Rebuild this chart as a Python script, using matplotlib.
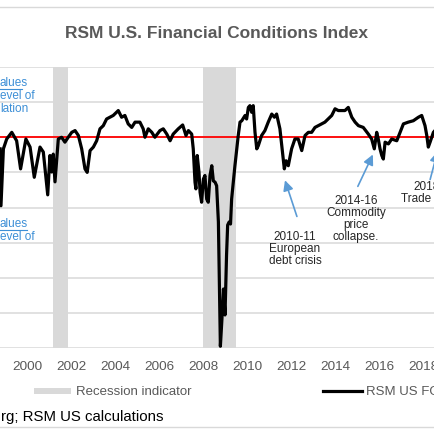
import matplotlib
matplotlib.use("Agg")
import matplotlib.pyplot as plt
from matplotlib.patches import Rectangle
from matplotlib.lines import Line2D

plt.rcParams['font.family'] = ['Liberation Sans', 'DejaVu Sans']

# index values (decimal year, index level)
years = [1998.78, 1998.82, 1998.93, 1999.08, 1999.31, 1999.53, 1999.71, 1999.95,
         2000.14, 2000.33, 2000.59, 2000.74, 2000.82, 2000.94, 2001.04, 2001.12,
         2001.19, 2001.27, 2001.42, 2001.57, 2001.72, 2001.87, 2002.03, 2002.18,
         2002.33, 2002.48, 2002.63, 2002.73, 2002.86, 2003.01, 2003.16, 2003.31,
         2003.46, 2003.61, 2003.76, 2003.91, 2004.14, 2004.29, 2004.44, 2004.59,
         2004.75, 2004.90, 2005.12, 2005.27, 2005.35, 2005.50, 2005.66, 2005.80,
         2006.03, 2006.18, 2006.34, 2006.49, 2006.63, 2006.86, 2007.06, 2007.21,
         2007.32, 2007.47, 2007.54, 2007.62, 2007.66, 2007.72, 2007.80, 2007.85,
         2007.92, 2008.00, 2008.07, 2008.15, 2008.22, 2008.30, 2008.38, 2008.45,
         2008.53, 2008.60, 2008.68, 2008.73, 2008.77, 2008.84, 2008.91, 2008.98,
         2009.05, 2009.10, 2009.17, 2009.23, 2009.28, 2009.43, 2009.58, 2009.66,
         2009.74, 2009.89, 2009.96, 2010.04, 2010.11, 2010.19, 2010.26, 2010.34,
         2010.42, 2010.49, 2010.64, 2010.79, 2010.94, 2011.10, 2011.22, 2011.32,
         2011.47, 2011.58, 2011.67, 2011.75, 2011.85, 2012.00, 2012.15, 2012.30,
         2012.46, 2012.61, 2012.76, 2012.91, 2013.06, 2013.21, 2013.37, 2013.51,
         2013.66, 2013.82, 2013.97, 2014.12, 2014.42, 2014.57, 2014.73, 2014.88,
         2015.03, 2015.25, 2015.48, 2015.63, 2015.75, 2015.86, 2015.93, 2016.01,
         2016.09, 2016.16, 2016.24, 2016.39, 2016.54, 2016.77, 2016.92, 2017.07,
         2017.29, 2017.52, 2017.75, 2017.90, 2018.05, 2018.13, 2018.20, 2018.28,
         2018.43, 2018.50]
fci = [-0.33, -1.95, -0.33, -0.05, 0.14, -0.10, -0.90, -0.05,
       -0.28, -1.14, -0.28, -0.42, -0.90, -1.64, -0.52, -0.99,
       -0.48, -1.27, -0.05, 0.00, -0.14, 0.00, 0.14, 0.19,
       0.05, -0.33, -0.90, -1.00, -0.38, -0.28, -0.10, 0.24,
       0.33, 0.52, 0.57, 0.62, 0.76, 0.57, 0.62, 0.38,
       0.28, 0.43, 0.43, 0.24, 0.00, 0.24, 0.14, 0.00,
       0.19, 0.24, 0.09, -0.10, 0.09, 0.24, 0.35, 0.05,
       0.19, 0.09, -0.33, -1.28, -1.47, -0.52, -1.00, -1.57,
       -1.85, -1.19, -1.09, -1.76, -1.85, -1.09, -0.81, -1.24,
       -1.28, -1.38, -2.41, -4.32, -5.95, -5.18, -4.32, -5.06,
       -3.35, -2.50, -2.41, -2.47, -1.76, -0.81, 0.05, 0.43,
       0.47, 0.62, 0.52, 0.85, 0.90, 0.71, 0.90, 0.14,
       -0.33, -0.24, 0.05, 0.19, 0.43, 0.66, 0.57, 0.66,
       0.24, -0.38, -0.90, -0.67, -0.81, -0.33, -0.05, -0.05,
       -0.38, 0.05, 0.14, 0.14, 0.28, 0.33, 0.38, 0.43,
       0.52, 0.62, 0.81, 0.76, 0.76, 0.85, 0.57, 0.43,
       0.33, 0.28, 0.09, -0.05, -0.33, 0.14, -0.05, -0.33,
       -0.52, -0.62, -0.14, -0.19, -0.05, -0.10, 0.14, 0.38,
       0.43, 0.47, 0.57, 0.62, 0.33, 0.05, -0.28, -0.14,
       0.14, 0.19]

recessions = [(2001.2, 2001.85), (2007.97, 2009.5)]
xticks = list(range(2000, 2019, 2))
yticks = list(range(-6, 3))

W = 435.0


def fx(px):
    return px / W


def fy(py):
    return 1 - py / W


fig = plt.figure(figsize=(4.35, 4.35), dpi=100)
ax = fig.add_axes([0, fy(349), 1, (349 - 68) / W])

for start, end in recessions:
    ax.axvspan(start, end, color='#d9d9d9', lw=0, zorder=1)

ax.plot(years, fci, color='black', lw=2.3, zorder=3, solid_joinstyle='round')
ax.axhline(0, color='#ff0000', lw=1.3, zorder=2)

ax.set_xlim(1998.776, 2018.503)
ax.set_ylim(-6, 2)
ax.set_yticks(yticks)
ax.set_xticks(xticks)
ax.set_xticklabels([str(t) for t in xticks])
ax.grid(axis='y', color='#d9d9d9', lw=1.1, zorder=0)
ax.set_axisbelow(True)
ax.tick_params(axis='x', length=0, pad=9, labelsize=9.7, labelcolor='#595959')
ax.tick_params(axis='y', length=0, labelleft=False)
for s in ax.spines.values():
    s.set_visible(False)

# title
fig.text(fx(217), fy(33), "RSM U.S. Financial Conditions Index", ha='center', va='center',
         fontsize=12.5, fontweight='bold', color='#595959')

# chart frame lines
fig.add_artist(Line2D([0, 1], [fy(8), fy(8)], color='#d9d9d9', lw=1))
fig.add_artist(Line2D([0, 1], [fy(428), fy(428)], color='#d9d9d9', lw=1))

# cut-off notes on the left
blue = '#3d8fd6'
fig.text(fx(0), fy(83), "alues", ha='left', va='center', fontsize=8.5, color=blue)
fig.add_artist(Line2D([0, fx(22)], [fy(89.5), fy(89.5)], color=blue, lw=0.8))
fig.text(fx(0), fy(96), "evel of", ha='left', va='center', fontsize=8.5, color=blue)
fig.text(fx(0), fy(109), "lation", ha='left', va='center', fontsize=8.5, color=blue)
fig.text(fx(0), fy(224), "alues", ha='left', va='center', fontsize=8.5, color=blue)
fig.add_artist(Line2D([0, fx(27)], [fy(230.5), fy(230.5)], color=blue, lw=0.8))
fig.text(fx(0), fy(237), "evel of", ha='left', va='center', fontsize=8.5, color=blue)

# event annotations
arrow = dict(arrowstyle='-|>,head_length=0.6,head_width=0.3', color='#5b9bd5', lw=1.2)
ax.annotate("", xy=(2011.66, -1.15), xytext=(2012.28, -2.33), arrowprops=arrow)
ax.annotate("", xy=(2015.74, -0.42), xytext=(2014.95, -1.47), arrowprops=arrow)
ax.annotate("", xy=(2018.65, -0.33), xytext=(2018.25, -1.28),
            arrowprops=arrow, annotation_clip=False)
txt = dict(ha='center', va='top', fontsize=8.5, color='#262626', linespacing=1.0)
fig.text(fx(295), fy(231), "2010-11\nEuropean\ndebt crisis", **txt)
fig.text(fx(356), fy(195), "2014-16\nCommodity\nprice\ncollapse.", **txt)
fig.text(fx(427), fy(181), "2018\nTrade war", **txt)

# legend, drawn by hand to match the spread-out layout
fig.add_artist(Rectangle((fx(34), fy(395)), fx(71) - fx(34), 6 / W,
                         transform=fig.transFigure, color='#d9d9d9', lw=0))
fig.text(fx(76), fy(392), "Recession indicator", ha='left', va='center',
         fontsize=9.5, color='#595959')
fig.add_artist(Line2D([fx(323), fx(362)], [fy(392), fy(392)], color='black', lw=2.3))
fig.text(fx(366), fy(392), "RSM US FCI", ha='left', va='center',
         fontsize=9.5, color='#595959')

# source line
fig.text(fx(1), fy(417), "rg; RSM US calculations", ha='left', va='center',
         fontsize=10.8, color='black')

fig.savefig("out.png", dpi=100)
